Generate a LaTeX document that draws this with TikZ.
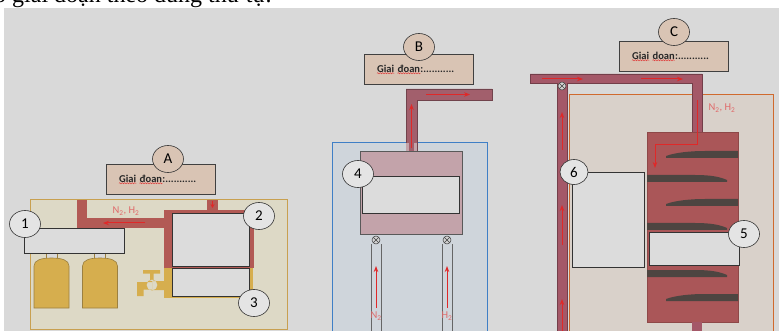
\documentclass[tikz,border=0pt]{standalone}
\usepackage{fontspec}
\setmainfont{Carlito}
\newfontfamily\bodyserif{Liberation Serif}
\usetikzlibrary{positioning,arrows.meta,shapes.geometric,decorations.pathmorphing}

\definecolor{bggray}{HTML}{D9D9D9}
\definecolor{beige}{HTML}{DDD9C6}
\definecolor{goldline}{HTML}{C8A050}
\definecolor{stagefill}{HTML}{D9C4B4}
\definecolor{pipeA}{HTML}{B25A55}
\definecolor{tapgold}{HTML}{D6AE4E}
\definecolor{cylline}{HTML}{9C8040}
\definecolor{blankfill}{HTML}{DCDCDC}
\definecolor{discfill}{HTML}{E4E4E4}
\definecolor{bluefill}{HTML}{CFD5DB}
\definecolor{blueline}{HTML}{3F7FC6}
\definecolor{pinkfill}{HTML}{C3A3AA}
\definecolor{pipeB}{HTML}{A25F6C}
\definecolor{orangefill}{HTML}{D9D1CA}
\definecolor{orangeline}{HTML}{D06A2E}
\definecolor{pipeC}{HTML}{A45868}
\definecolor{colfill}{HTML}{AA5658}
\definecolor{colline}{HTML}{8E4848}
\definecolor{shelf}{HTML}{4D4541}
\definecolor{arrowred}{HTML}{E02828}
\definecolor{gastext}{HTML}{E06A6A}

\begin{document}
\begin{tikzpicture}
        [x=1pt,y=-1pt,
        blank/.style={draw=black!80,fill=blankfill,line width=0.7pt,inner sep=0},
        numdisc/.style={ellipse,draw=black!80,fill=discfill,line width=0.6pt,inner sep=0,minimum width=31pt,minimum height=27pt,font=\fontsize{15}{15}\selectfont},
        stagebox/.style={draw=black!75,fill=stagefill,line width=0.7pt,inner sep=0,minimum width=109pt,minimum height=30pt},
        stagetxt/.style={inner sep=0,anchor=base west,text=black!85,font=\bfseries\fontsize{10.5}{11}\selectfont},
        squig/.style={arrowred,line width=0.4pt,decorate,decoration={snake,amplitude=0.6pt,segment length=2.5pt}},
        flow/.style={arrowred,line width=1pt,-{Stealth[length=6pt,width=4.5pt]}},
        gas/.style={inner sep=0,text=gastext,font=\fontsize{10.5}{11}\selectfont},
        tube/.style={draw=gray!80!black,line width=0.6pt},
        valve/.style={circle,draw=gray!50!black,fill=gray!35,line width=0.5pt,minimum size=8pt,inner sep=0,
          path picture={\draw[gray!50!black,line width=0.5pt] (path picture bounding box.north west) -- (path picture bounding box.south east)
            (path picture bounding box.north east) -- (path picture bounding box.south west);}}]

        \useasboundingbox (0,0) rectangle (779,331);
        \fill[bggray] (4,8) rectangle (779,331);
        \begin{scope}
          \clip (0,0) rectangle (779,8);
          \node[inner sep=0,anchor=base west,font=\bodyserif\fontsize{24}{24}\selectfont] (heading) at (-6,3) {ó giai đoạn theo đúng thứ tự.};
        \end{scope}

        % stage A
        \draw[draw=goldline,fill=beige,line width=1pt] (30,200) rectangle (287,329);
        \fill[pipeA] (77,200) rectangle (87,228);
        \fill[pipeA] (77,218) rectangle (172,228);
        \fill[pipeA] (164,210) rectangle (254,268);
        \fill[pipeA] (207,200) rectangle (218,210);
        \fill[tapgold] (164,268) rectangle (253,298);
        \draw[arrowred,line width=1pt,-{Stealth[length=4pt,width=4pt]}] (212.5,201) -- (212.5,208);
        \foreach \cx in {51.5,100} {
          \draw[fill=bggray,draw=cylline,line width=0.5pt] (\cx-5.5,253) rectangle (\cx+5.5,258);
          \draw[fill=tapgold,draw=cylline,line width=0.6pt] (\cx-17.5,308) -- (\cx-17.5,266)
            .. controls (\cx-17.5,260) and (\cx-10,258) .. (\cx,258)
            .. controls (\cx+10,258) and (\cx+17.5,260) .. (\cx+17.5,266) -- (\cx+17.5,308) -- cycle;
        }
        \fill[tapgold] (143,270) rectangle (160,273.5) (150,272) rectangle (153.5,281)
          (152,285) circle (5.5) (152,281) rectangle (165,290)
          (137,282) rectangle (152,289.5) (137,282) rectangle (143.5,296);
        \node[blank,minimum width=100pt,minimum height=25pt] (b1) at (74,240.5) {};
        \node[blank,minimum width=77pt,minimum height=53pt] (b2) at (210.5,239.5) {};
        \node[blank,minimum width=77pt,minimum height=28pt] (b3) at (210.5,282) {};
        \node[numdisc] (d1) at (25,224) {1};
        \node[numdisc] (d2) at (259,216) {2};
        \node[numdisc] (d3) at (254,303) {3};
        \node[gas] (gasA) at (126,211) {N\textsubscript{2}, H\textsubscript{2}};
        \draw[flow] (145,223) -- (103,223);
        \node[stagebox] (sA) at (160.5,179) {};
        \node[stagetxt] (wA1) at (119,183) {Giai};
        \node[stagetxt] (wA2) at ([xshift=3pt]wA1.base east) {đoan};
        \node[stagetxt] (wA3) at (wA2.base east) {:...........};
        \draw[squig] (wA1.south west) -- (wA1.south east);
        \draw[squig] (wA2.south west) -- (wA2.south east);
        \node[numdisc,fill=stagefill] (dA) at (168,159) {A};

        % stage B
        \draw[draw=blueline,fill=bluefill,line width=1pt] (332,143) rectangle (487,340);
        \draw[draw=gray!70!black,fill=pinkfill,line width=0.7pt] (360,151) rectangle (462,234);
        \draw[draw=pipeB!70!black,fill=pipeB,line width=0.5pt] (406,151) -- (406,89) -- (492,89) -- (492,100) -- (417,100) -- (417,151);
        \fill[pinkfill] (406.3,143) rectangle (416.7,151.5);
        \fill[pipeB] (409,143) rectangle (414,151.5);
        \node[blank,minimum width=97pt,minimum height=37pt] (b4) at (410.5,194.5) {};
        \node[numdisc] (d4) at (358,174) {4};
        \foreach \tx in {376,447} {
          \draw[tube] (\tx-5,244) -- (\tx-5,340) (\tx+5,244) -- (\tx+5,340);
          \node[valve] at (\tx,240) {};
          \draw[flow] (\tx,308) -- (\tx,266);
        }
        \node[gas] (gasN) at (376,316) {N\textsubscript{2}};
        \node[gas] (gasH) at (447,316) {H\textsubscript{2}};
        \draw[flow] (411.5,148) -- (411.5,104);
        \draw[flow] (426,94.5) -- (470,94.5);
        \node[stagebox] (sB) at (418.5,69) {};
        \node[stagetxt] (wB1) at (377,73) {Giai};
        \node[stagetxt] (wB2) at ([xshift=3pt]wB1.base east) {đoan};
        \node[stagetxt] (wB3) at (wB2.base east) {:...........};
        \draw[squig] (wB1.south west) -- (wB1.south east);
        \draw[squig] (wB2.south west) -- (wB2.south east);
        \node[numdisc,fill=stagefill] (dB) at (419,47) {B};

        % stage C
        \draw[draw=orangeline,fill=orangefill,line width=1pt] (569,95) rectangle (773,340);
        \draw[draw=pipeC!70!black,fill=pipeC,line width=0.5pt] (530,74) -- (702,74) -- (702,133) -- (692,133) -- (692,83)
          -- (567,83) -- (567,340) -- (557,340) -- (557,83) -- (530,83) -- cycle;
        \draw[draw=colline,fill=colfill,line width=0.7pt] (647,132) rectangle (738,322);
        \fill[pipeC] (692,322) rectangle (702,340);
        \foreach \y in {157,205,300}
          \fill[shelf] (666,\y+1) -- (738,\y+1) -- (738,\y-6) -- (705,\y-6)
            .. controls (688,\y-6) and (674,\y-4) .. (666,\y-1) -- cycle;
        \foreach \y in {181,229,276}
          \fill[shelf] (647,\y+1) -- (727,\y+1) -- (727,\y-1)
            .. controls (720,\y-4) and (712,\y-6) .. (695,\y-6) -- (647,\y-6) -- cycle;
        \node[valve] (vC) at (562,86) {};
        \draw[flow] (542,79) -- (583,79);
        \draw[flow] (641,79) -- (683,79);
        \draw[flow] (562,150) -- (562,112);
        \draw[flow] (562,245) -- (562,205);
        \draw[flow] (562,331) -- (562,299);
        \draw[flow] (697,100) -- (697,145) -- (655,145) -- (655,168);
        \node[gas] (gasC) at (722,108) {N\textsubscript{2}, H\textsubscript{2}};
        \node[blank,minimum width=72pt,minimum height=95pt] (b6) at (608,219.5) {};
        \node[blank,minimum width=90pt,minimum height=33pt] (b5) at (694,248.5) {};
        \node[numdisc,minimum width=28pt,minimum height=25pt] (d6) at (574,172) {6};
        \node[numdisc] (d5) at (744,234) {5};
        \node[stagebox] (sC) at (673.5,56) {};
        \node[stagetxt] (wC1) at (632,60) {Giai};
        \node[stagetxt] (wC2) at ([xshift=3pt]wC1.base east) {doan};
        \node[stagetxt] (wC3) at (wC2.base east) {:...........};
        \draw[squig] (wC1.south west) -- (wC1.south east);
        \draw[squig] (wC2.south west) -- (wC2.south east);
        \node[numdisc,fill=stagefill] (dC) at (674,32) {C};

      \end{tikzpicture}
\end{document}
